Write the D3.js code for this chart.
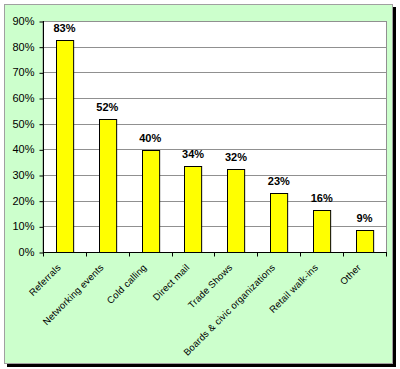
<!DOCTYPE html>
<html>
<head>
<meta charset="utf-8">
<script src="https://cdn.jsdelivr.net/npm/d3@7"></script>
<style>
  body { margin: 0; background: #ffffff; }
  svg { display: block; font-family: Arial, 'Liberation Sans', sans-serif; }
</style>
</head>
<body>
<div id="chart"></div>
<script>
const categories = ['Referrals', 'Networking events', 'Cold calling', 'Direct mail',
  'Trade Shows', 'Boards & civic organizations', 'Retail walk-ins', 'Other'];
const shares = [0.827, 0.52, 0.397, 0.335, 0.323, 0.23, 0.164, 0.087];
const yTicks = [0, 0.1, 0.2, 0.3, 0.4, 0.5, 0.6, 0.7, 0.8, 0.9];

const width = 400;
const height = 369;
const plot = { left: 43, right: 386, top: 21, bottom: 252 };

const svg = d3.select('#chart')
  .append('svg')
  .attr('width', width)
  .attr('height', height);

// frame with shadow
svg.append('rect')
  .attr('x', 7)
  .attr('y', 7)
  .attr('width', 389)
  .attr('height', 360)
  .style('fill', '#000000');

svg.append('rect')
  .attr('x', 4.5)
  .attr('y', 4.5)
  .attr('width', 388)
  .attr('height', 359)
  .style('fill', '#ccffcc')
  .style('stroke', '#a0a0a0');

const x = d3.scaleBand()
  .domain(categories)
  .range([plot.left, plot.right])
  .paddingInner(0.6)
  .paddingOuter(0.3);

const y = d3.scaleLinear()
  .domain([0, 0.9])
  .range([plot.bottom, plot.top]);

const pct = d3.format('.0%');

// plot area
svg.append('rect')
  .attr('x', plot.left)
  .attr('y', plot.top + 0.5)
  .attr('width', plot.right - plot.left + 0.5)
  .attr('height', plot.bottom - plot.top)
  .style('fill', '#ffffff')
  .style('stroke', '#909090');

svg.append('g')
  .selectAll('line')
  .data(yTicks.slice(1))
  .join('line')
  .attr('x1', plot.left)
  .attr('x2', plot.right)
  .attr('y1', d => Math.round(y(d)) + 0.5)
  .attr('y2', d => Math.round(y(d)) + 0.5)
  .style('stroke', '#909090');

// bars
svg.append('g')
  .selectAll('rect')
  .data(shares)
  .join('rect')
  .attr('x', (d, i) => Math.round(x(categories[i])) + 0.5)
  .attr('y', d => Math.round(y(d)) + 0.5)
  .attr('width', x.bandwidth())
  .attr('height', d => plot.bottom - Math.round(y(d)))
  .style('fill', '#ffff00')
  .style('stroke', '#000000');

svg.append('g')
  .selectAll('text')
  .data(shares)
  .join('text')
  .text(d => pct(d))
  .attr('x', (d, i) => x(categories[i]) + x.bandwidth() / 2)
  .attr('y', d => y(d) - 8)
  .attr('text-anchor', 'middle')
  .attr('font-size', '11px')
  .attr('font-weight', 'bold');

// y axis
const yAxis = svg.append('g')
  .attr('transform', `translate(${plot.left + 0.5}, 0)`)
  .call(d3.axisLeft(y).tickValues(yTicks).tickFormat(pct).tickSize(4).tickPadding(5));

yAxis.select('.domain').attr('d', `M0,${plot.top}V${plot.bottom + 0.5}`);
yAxis.selectAll('.tick line').attr('transform', 'translate(0, 0.5)');
yAxis.selectAll('text')
  .attr('font-size', '11px')
  .attr('font-family', 'Arial, Liberation Sans, sans-serif')
  .attr('fill', '#000000');

// x axis
const bounds = categories.map(c => x(c) - x.step() * 0.3).concat([plot.right]);
const xAxis = svg.append('g')
  .attr('transform', `translate(0, ${plot.bottom + 0.5})`);

xAxis.append('line')
  .attr('x1', plot.left)
  .attr('x2', plot.right + 1)
  .style('stroke', '#000000');

xAxis.selectAll('.tick')
  .data(bounds)
  .join('line')
  .attr('class', 'tick')
  .attr('x1', d => Math.round(d) + 0.5)
  .attr('x2', d => Math.round(d) + 0.5)
  .attr('y1', 0)
  .attr('y2', 4)
  .style('stroke', '#000000');

svg.append('g')
  .selectAll('text')
  .data(categories)
  .join('text')
  .text(d => d)
  .attr('text-anchor', 'end')
  .attr('font-size', '9.5px')
  .attr('letter-spacing', '0.2px')
  .attr('transform', d => `translate(${x(d) + x.bandwidth() / 2 - 3}, 268) rotate(-45)`);
</script>
</body>
</html>
